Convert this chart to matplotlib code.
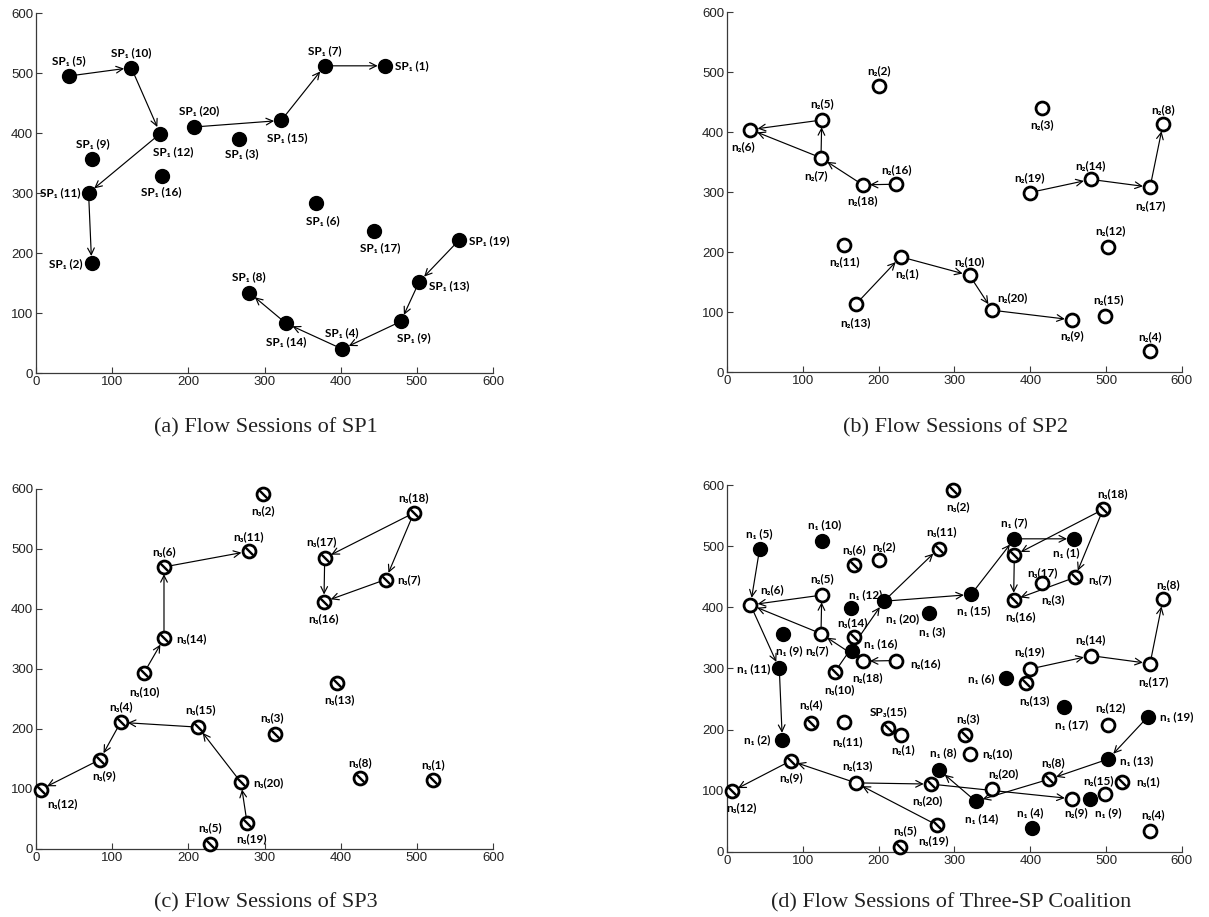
import matplotlib
matplotlib.use("Agg")
import matplotlib.pyplot as plt
from matplotlib.path import Path

# -----------------------------
# DATA (node positions)
# -----------------------------

# SP1 nodes 1..20 (node 18 is printed as "9" in the original)
sp1_x = [458, 73, 266, 402, 43, 368, 379, 280, 74, 125, 69, 163, 503, 328, 322, 165, 444, 479, 555, 207]
sp1_y = [512, 183, 390, 40, 495, 284, 512, 134, 356, 509, 300, 399, 152, 83, 421, 329, 237, 86, 221, 410]
sp1_tags = ["1", "2", "3", "4", "5", "6", "7", "8", "9", "10", "11", "12", "13", "14", "15", "16", "17", "9", "19", "20"]

# SP2 nodes 1..20
sp2_x = [229, 200, 415, 558, 125, 31, 124, 575, 455, 320, 155, 502, 170, 480, 499, 223, 558, 179, 399, 350]
sp2_y = [192, 477, 440, 35, 420, 404, 357, 413, 87, 161, 212, 208, 113, 321, 94, 313, 308, 312, 299, 103]

# SP3 nodes 1..20
sp3_x = [521, 298, 314, 111, 228, 168, 459, 425, 84, 142, 279, 6, 395, 168, 213, 378, 379, 496, 277, 269]
sp3_y = [115, 592, 192, 211, 8, 470, 449, 119, 149, 294, 496, 99, 277, 351, 203, 412, 485, 560, 44, 111]

# flow sessions (from node, to node)
sp1_flows = [(5, 10), (10, 12), (12, 11), (11, 2),
             (20, 15), (15, 7), (7, 1),
             (19, 13), (13, 18), (18, 4), (4, 14), (14, 8)]
sp2_flows = [(16, 18), (18, 7), (7, 5), (5, 6), (7, 6),
             (19, 14), (14, 17), (17, 8),
             (13, 1), (1, 10), (10, 20), (20, 9)]
sp3_flows = [(10, 14), (14, 6), (6, 11),
             (18, 17), (18, 7), (17, 16), (7, 16),
             (19, 20), (20, 15), (15, 4), (4, 9), (9, 12)]
coalition_flows = [(("n1", 5), ("n2", 6)), (("n2", 6), ("n1", 11)), (("n1", 11), ("n1", 2)),
                   (("n2", 5), ("n2", 6)), (("n2", 7), ("n2", 6)), (("n2", 7), ("n2", 5)),
                   (("n2", 18), ("n2", 7)), (("n2", 16), ("n2", 18)),
                   (("n3", 10), ("n1", 20)), (("n1", 20), ("n3", 11)), (("n1", 20), ("n1", 15)),
                   (("n1", 15), ("n1", 7)), (("n1", 7), ("n1", 1)),
                   (("n3", 18), ("n3", 17)), (("n3", 18), ("n3", 7)),
                   (("n3", 17), ("n3", 16)), (("n3", 7), ("n3", 16)),
                   (("n2", 19), ("n2", 14)), (("n2", 14), ("n2", 17)), (("n2", 17), ("n2", 8)),
                   (("n1", 19), ("n1", 13)), (("n1", 13), ("n3", 8)), (("n3", 8), ("n1", 14)),
                   (("n1", 14), ("n1", 8)),
                   (("n3", 9), ("n3", 12)), (("n2", 13), ("n3", 9)), (("n3", 19), ("n2", 13)),
                   (("n2", 13), ("n3", 20)), (("n3", 20), ("n2", 9))]

captions = ["(a) Flow Sessions of SP1", "(b) Flow Sessions of SP2",
            "(c) Flow Sessions of SP3", "(d) Flow Sessions of Three-SP Coalition"]
ticks = [0, 100, 200, 300, 400, 500, 600]

# -----------------------------
# LABEL OFFSETS (pixels: dx, dy, horizontal alignment)
# -----------------------------

off_a = {1: (10, 0, "left"), 2: (-9, 0, "right"), 3: (3, -15, "center"), 4: (0, 16, "center"),
         5: (0, 15, "center"), 6: (6, -18, "center"), 7: (0, 15, "center"), 8: (0, 16, "center"),
         9: (0, 16, "center"), 10: (0, 15, "center"), 11: (-8, 0, "right"), 12: (13, -18, "center"),
         13: (10, -4, "left"), 14: (0, -18, "center"), 15: (6, -17, "center"), 16: (0, -16, "center"),
         17: (6, -17, "center"), 18: (13, -16, "center"), 19: (10, 0, "left"), 20: (5, 16, "center")}
off_b = {1: (6, -17, "center"), 2: (0, 15, "center"), 3: (0, -17, "center"), 4: (0, 14, "center"),
         5: (0, 16, "center"), 6: (-7, -17, "center"), 7: (-5, -18, "center"), 8: (0, 15, "center"),
         9: (0, -16, "center"), 10: (0, 14, "center"), 11: (0, -17, "center"), 12: (3, 17, "center"),
         13: (0, -18, "center"), 14: (0, 14, "center"), 15: (3, 16, "center"), 16: (0, 15, "center"),
         17: (0, -18, "center"), 18: (0, -16, "center"), 19: (0, 15, "center"), 20: (20, 13, "center")}
off_c = {1: (0, 15, "center"), 2: (0, -17, "center"), 3: (-3, 16, "center"), 4: (0, 16, "center"),
         5: (0, 16, "center"), 6: (0, 15, "center"), 7: (12, 0, "left"), 8: (0, 15, "center"),
         9: (4, -16, "center"), 10: (0, -19, "center"), 11: (0, 15, "center"), 12: (22, -14, "center"),
         13: (3, -17, "center"), 14: (12, 0, "left"), 15: (2, 17, "center"), 16: (0, -17, "center"),
         17: (-3, 16, "center"), 18: (0, 15, "center"), 19: (4, -16, "center"), 20: (12, 0, "left")}
off_d = {("n1", 1): (-8, -14, "center"), ("n1", 2): (-12, 0, "right"), ("n1", 3): (4, -18, "center"),
         ("n1", 4): (-2, 15, "center"), ("n1", 5): (0, 16, "center"), ("n1", 6): (-12, 0, "right"),
         ("n1", 7): (0, 16, "center"), ("n1", 8): (4, 17, "center"), ("n1", 9): (6, -16, "center"),
         ("n1", 10): (3, 16, "center"), ("n1", 11): (-9, 0, "right"), ("n1", 12): (15, 13, "center"),
         ("n1", 13): (12, -2, "left"), ("n1", 14): (6, -17, "center"), ("n1", 15): (3, -16, "center"),
         ("n1", 16): (12, 7, "left"), ("n1", 17): (8, -18, "center"), ("n1", 18): (18, -13, "center"),
         ("n1", 19): (12, 0, "left"), ("n1", 20): (19, -17, "center"),
         ("n2", 1): (2, -15, "center"), ("n2", 2): (5, 14, "center"), ("n2", 3): (11, -17, "center"),
         ("n2", 4): (3, 16, "center"), ("n2", 5): (0, 16, "center"), ("n2", 6): (22, 15, "center"),
         ("n2", 7): (-4, -17, "center"), ("n2", 8): (5, 15, "center"), ("n2", 9): (4, -14, "center"),
         ("n2", 10): (13, 0, "left"), ("n2", 11): (3, -19, "center"), ("n2", 12): (3, 17, "center"),
         ("n2", 13): (2, 17, "center"), ("n2", 14): (0, 16, "center"), ("n2", 15): (-7, 14, "center"),
         ("n2", 16): (14, -3, "left"), ("n2", 17): (3, -18, "center"), ("n2", 18): (5, -17, "center"),
         ("n2", 19): (0, 17, "center"), ("n2", 20): (11, 15, "center"),
         ("n3", 1): (14, 0, "left"), ("n3", 2): (5, -17, "center"), ("n3", 3): (3, 16, "center"),
         ("n3", 4): (0, 18, "center"), ("n3", 5): (5, 16, "center"), ("n3", 6): (0, 15, "center"),
         ("n3", 7): (13, -2, "left"), ("n3", 8): (4, 17, "center"), ("n3", 9): (0, -17, "center"),
         ("n3", 10): (5, -18, "center"), ("n3", 11): (3, 17, "center"), ("n3", 12): (10, -16, "center"),
         ("n3", 13): (8, -18, "center"), ("n3", 14): (-2, 15, "center"), ("n3", 15): (0, 16, "center"),
         ("n3", 16): (7, -17, "center"), ("n3", 17): (28, -17, "center"), ("n3", 18): (9, 16, "center"),
         ("n3", 19): (-4, -16, "center"), ("n3", 20): (-4, -17, "center")}

# -----------------------------
# STYLE
# -----------------------------

LABEL_FONT = ["Lato", "Noto Sans", "DejaVu Sans"]
SLASH = Path([(-1, 1), (1, -1)], [Path.MOVETO, Path.LINETO])
MS = 10
AXIS_COLOR = "#3a3a3a"

plt.rcParams["font.family"] = ["Liberation Sans", "DejaVu Sans"]

fig = plt.figure(figsize=(12.09, 9.17), dpi=100)
axes_boxes = [[0.0298, 0.5932, 0.378, 0.3926],
              [0.6013, 0.5943, 0.3763, 0.3926],
              [0.0298, 0.0742, 0.378, 0.3926],
              [0.6013, 0.0709, 0.3763, 0.4002]]
caption_pos = [(0.220, 0.533), (0.790, 0.533), (0.220, 0.0153), (0.787, 0.0153)]


def setup_axes(ax):
    ax.set_xlim(0, 600)
    ax.set_ylim(0, 600)
    ax.set_xticks(ticks)
    ax.set_yticks(ticks)
    for side in ["top", "right"]:
        ax.spines[side].set_visible(False)
    for side in ["left", "bottom"]:
        ax.spines[side].set_color(AXIS_COLOR)
        ax.spines[side].set_linewidth(0.9)
    ax.tick_params(direction="in", length=4, width=0.8, color=AXIS_COLOR,
                   labelsize=9.5, labelcolor="#222222", pad=2)


def draw_node(ax, x, y, kind):
    if kind == "n1":
        ax.plot(x, y, "o", ms=MS, mfc="black", mec="black", zorder=4, clip_on=False)
    else:
        ax.plot(x, y, "o", ms=MS - 0.7, mfc="white", mec="black", mew=2.0, zorder=4, clip_on=False)
        if kind == "n3":
            ax.plot(x, y, marker=SLASH, ms=MS * 0.55, mec="black", mew=1.7, zorder=5,
                    ls="none", clip_on=False)


def draw_label(ax, x, y, text, off):
    dx, dy, ha = off
    ax.annotate(text, (x, y), xytext=(dx, dy), textcoords="offset pixels",
                ha=ha, va="center", fontsize=8.5, fontweight="bold",
                family=LABEL_FONT, zorder=6, annotation_clip=False)


def draw_flow(ax, p0, p1):
    ax.annotate("", xy=p1, xytext=p0,
                arrowprops=dict(arrowstyle="->", color="black", lw=0.85,
                                shrinkA=0, shrinkB=5.2, mutation_scale=12),
                zorder=2, annotation_clip=False)


def panel_single(ax, xs, ys, flows, kind, name, offsets, tags=None, spaced=False):
    setup_axes(ax)
    for a, b in flows:
        draw_flow(ax, (xs[a - 1], ys[a - 1]), (xs[b - 1], ys[b - 1]))
    for i in range(len(xs)):
        draw_node(ax, xs[i], ys[i], kind)
        tag = tags[i] if tags else str(i + 1)
        text = f"{name} ({tag})" if spaced else f"{name}({tag})"
        draw_label(ax, xs[i], ys[i], text, offsets[i + 1])


axs = [fig.add_axes(b) for b in axes_boxes]

panel_single(axs[0], sp1_x, sp1_y, sp1_flows, "n1", "SP\u2081", off_a, tags=sp1_tags, spaced=True)
panel_single(axs[1], sp2_x, sp2_y, sp2_flows, "n2", "n\u2082", off_b)
panel_single(axs[2], sp3_x, sp3_y, sp3_flows, "n3", "n\u2083", off_c)

# coalition panel
ax = axs[3]
setup_axes(ax)
nodes = {}
for i in range(20):
    nodes[("n1", i + 1)] = (sp1_x[i], sp1_y[i])
    nodes[("n2", i + 1)] = (sp2_x[i], sp2_y[i])
    nodes[("n3", i + 1)] = (sp3_x[i], sp3_y[i])
for a, b in coalition_flows:
    draw_flow(ax, nodes[a], nodes[b])
for key, (x, y) in nodes.items():
    kind, num = key
    draw_node(ax, x, y, kind)
    if kind == "n1":
        text = f"n\u2081 ({sp1_tags[num - 1]})"
    elif kind == "n2":
        text = f"n\u2082({num})"
    else:
        text = f"SP\u2083({num})" if num == 15 else f"n\u2083({num})"
    draw_label(ax, x, y, text, off_d[key])

for (cx, cy), cap in zip(caption_pos, captions):
    fig.text(cx, cy, cap, ha="center", va="center", fontsize=16,
             family=["Liberation Serif", "DejaVu Serif"], color="#222222")

fig.savefig("out.png", dpi=100)
